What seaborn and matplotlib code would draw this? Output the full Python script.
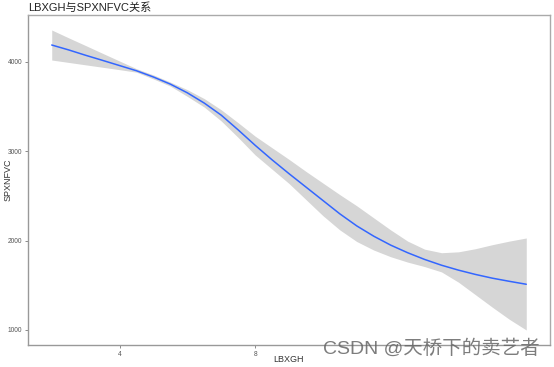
import matplotlib
matplotlib.use("Agg")
import matplotlib.pyplot as plt
import numpy as np
import pandas as pd
import seaborn as sns

# smoothed fit of SPXNFVC on LBXGH with its confidence band
lbxgh = [2.0, 2.5, 3.0, 3.5, 4.0, 4.5, 5.0, 5.5, 6.0, 6.5, 7.0, 7.5, 8.0, 8.5, 9.0,
         9.5, 10.0, 10.5, 11.0, 11.5, 12.0, 12.5, 13.0, 13.5, 14.0, 14.5, 15.0, 15.5, 16.0]
fit = [4190, 4135, 4075, 4018, 3960, 3902, 3832, 3752, 3655, 3540, 3405, 3240, 3068, 2905, 2750,
       2600, 2450, 2300, 2165, 2050, 1950, 1865, 1790, 1725, 1670, 1622, 1580, 1545, 1512]
upper = [4358, 4270, 4184, 4097, 4011, 3925, 3855, 3775, 3690, 3590, 3465, 3320, 3170, 3040, 2910,
         2775, 2645, 2515, 2390, 2255, 2120, 1995, 1905, 1865, 1875, 1910, 1955, 1995, 2030]
lower = [4022, 3995, 3968, 3941, 3914, 3886, 3810, 3730, 3615, 3495, 3340, 3155, 2960, 2800, 2640,
         2460, 2280, 2120, 1990, 1895, 1820, 1760, 1710, 1650, 1535, 1395, 1255, 1120, 1000]

x_ticks = [4, 8]
y_ticks = [1000, 2000, 3000, 4000]

sns.set_style("white")
plt.rcParams['font.family'] = ['Liberation Sans', 'Noto Sans CJK SC', 'DejaVu Sans']

df = pd.DataFrame({"LBXGH": lbxgh, "SPXNFVC": fit, "upper": upper, "lower": lower})

fig = plt.figure(figsize=(5.54, 3.67), dpi=100)
ax = fig.add_axes([28 / 554, 1 - 345 / 367, 522 / 554, 330 / 367])

ax.fill_between(df["LBXGH"], df["lower"], df["upper"], color="#d6d6d6", linewidth=0, zorder=1)
sns.lineplot(data=df, x="LBXGH", y="SPXNFVC", ax=ax, color="#3366ff", linewidth=1.1, zorder=2)

# ggplot-style 5% expansion
xr = max(lbxgh) - min(lbxgh)
ax.set_xlim(min(lbxgh) - 0.05 * xr, max(lbxgh) + 0.05 * xr)
ylo, yhi = min(lower), max(upper)
yr = yhi - ylo
ax.set_ylim(ylo - 0.05 * yr, yhi + 0.05 * yr)

ax.set_xticks(x_ticks)
ax.set_yticks(y_ticks)
ax.tick_params(axis="both", length=2.5, width=0.6, color="#777777", labelcolor="#555555",
               labelsize=4.8, pad=1.5, direction="out")
ax.tick_params(axis="both", which="both", bottom=True, left=True)

for side in ["left", "bottom"]:
    ax.spines[side].set_color("#999999")
    ax.spines[side].set_linewidth(1.0)
for side in ["top", "right"]:
    ax.spines[side].set_color("#aaaaaa")
    ax.spines[side].set_linewidth(1.0)

ax.set_xlabel("LBXGH", fontsize=6.5, color="#333333")
ax.set_ylabel("SPXNFVC", fontsize=6.5, color="#333333")
ax.xaxis.set_label_coords(0.5, -15 / 330, transform=ax.transAxes)
ax.yaxis.set_label_coords(-20 / 522, 0.5, transform=ax.transAxes)
ax.xaxis.label.set_va("center")
ax.yaxis.label.set_va("center")

fig.text(28 / 554, 1 - 7.5 / 367, "LBXGH与SPXNFVC关系", fontsize=8, color="#222222",
         ha="left", va="center")

# watermark
fig.text(540 / 554, 1 - 349 / 367, "CSDN @天桥下的卖艺者", fontsize=14, color="#666666",
         alpha=0.85, ha="right", va="center")

fig.savefig("out.png", dpi=100)
